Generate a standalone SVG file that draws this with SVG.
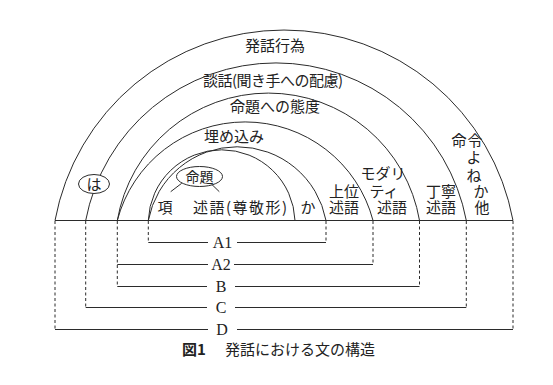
<svg xmlns="http://www.w3.org/2000/svg" width="553" height="385" viewBox="0 0 553 385">
<style>
.ln{fill:none;stroke:#2b2b2b;stroke-width:1}
.ds{fill:none;stroke:#2b2b2b;stroke-width:1;stroke-dasharray:3 2.5}
.jp{font-family:"Noto Sans CJK JP","Noto Sans CJK SC",sans-serif;font-size:15px;fill:#222;text-anchor:middle}
.lt{font-family:"Liberation Serif",serif;font-size:16px;fill:#222;text-anchor:middle}
.el{fill:#fff;stroke:#2b2b2b;stroke-width:1}
</style>
<rect width="553" height="385" fill="#fff"/>
<g id="baseline"><path class="ln" d="M55,220.5 H513"/></g>
<g id="layer-hatsuwa-koui">
<path class="ln" d="M55,220.5 A232.9,232.9 0 0 1 513,220.5"/>
<text class="jp" x="275" y="50.5">発話行為</text>
</g>
<g id="layer-danwa">
<path class="ln" d="M85.7,220.5 A193.7,193.7 0 0 1 466.3,220.5"/>
<text class="jp" x="273" y="85.5" textLength="140">談話(聞き手への配慮)</text>
</g>
<g id="layer-taido">
<path class="ln" d="M117.3,220.5 A153.3,153.3 0 0 1 419.5,220.5"/>
<text class="jp" x="275" y="111.5">命題への態度</text>
</g>
<g id="layer-umekomi">
<path class="ln" d="M117.3,220.5 A132.2,132.2 0 0 1 373,220.5"/>
<text class="jp" x="234" y="142">埋め込み</text>
</g>
<g id="layer-meidai-ka">
<path class="ln" d="M148.3,220.5 A90.4,90.4 0 0 1 326,220.5"/>
<text class="jp" x="308" y="213">か</text>
</g>
<g id="layer-meidai">
<path class="ln" d="M148.3,220.5 A73.4,73.4 0 0 1 295,220.5"/>
</g>
<g id="node-meidai">
<ellipse class="el" cx="199.5" cy="176.5" rx="23" ry="10"/>
<text class="jp" x="199.5" y="181.5" style="font-size:14px">命題</text>
</g>
<g id="node-kou"><text class="jp" x="165" y="212.5">項</text></g>
<g id="node-jutsugo"><text class="jp" x="240" y="212.5" textLength="94">述語(尊敬形)</text></g>
<g id="node-ha">
<ellipse class="el" cx="94" cy="184" rx="15.5" ry="9.5"/>
<text class="jp" x="94" y="189.5">は</text>
</g>
<g id="node-joui">
<text class="jp"><tspan x="344" y="196.5">上位</tspan><tspan x="344" y="212.5">述語</tspan></text>
</g>
<g id="node-modality">
<text class="jp"><tspan x="383" y="178.5">モダリ</tspan><tspan x="384" y="196.5">ティ</tspan><tspan x="392" y="212.5">述語</tspan></text>
</g>
<g id="node-teinei">
<text class="jp"><tspan x="441" y="196.5">丁寧</tspan><tspan x="441" y="212.5">述語</tspan></text>
</g>
<g id="node-meirei">
<text class="jp"><tspan x="459" y="145.5">命</tspan><tspan x="475" y="145.5">令</tspan><tspan x="474" y="163">よ</tspan><tspan x="474" y="180.5">ね</tspan><tspan x="481" y="196.5">か</tspan><tspan x="482" y="212.5">他</tspan></text>
</g>
<g id="connectors">
<path class="ln" d="M181.7,183.3 L170.7,191.7 M211.7,184.3 L219.3,191.7"/>
<path class="ds" d="M148.3,221 V242.5 M326,221 V242.5"/>
<path class="ln" d="M148.3,242.5 H208 M237,242.5 H326"/>
<path class="ds" d="M117.3,221 V286.5 M373,221 V264.5"/>
<path class="ln" d="M117.3,264.5 H208 M234,264.5 H373"/>
<path class="ds" d="M419.5,221 V286.5"/>
<path class="ln" d="M117.3,286.5 H207 M235,286.5 H419.5"/>
<path class="ds" d="M85.7,221 V307.5 M466.3,221 V307.5"/>
<path class="ln" d="M85.7,307.5 H207 M235,307.5 H466.3"/>
<path class="ds" d="M55,221 V329.5 M513,221 V329.5"/>
<path class="ln" d="M55,329.5 H208 M237,329.5 H513"/>
</g>
<g id="bracket-labels">
<text class="lt" x="222.5" y="248">A1</text>
<text class="lt" x="221" y="270">A2</text>
<text class="lt" x="221" y="292">B</text>
<text class="lt" x="221" y="313">C</text>
<text class="lt" x="222" y="335">D</text>
</g>
<g id="caption">
<text class="jp" x="182" y="355" style="text-anchor:start"><tspan font-weight="bold">図1</tspan><tspan x="225">発話における文の構造</tspan></text>
</g>
</svg>
